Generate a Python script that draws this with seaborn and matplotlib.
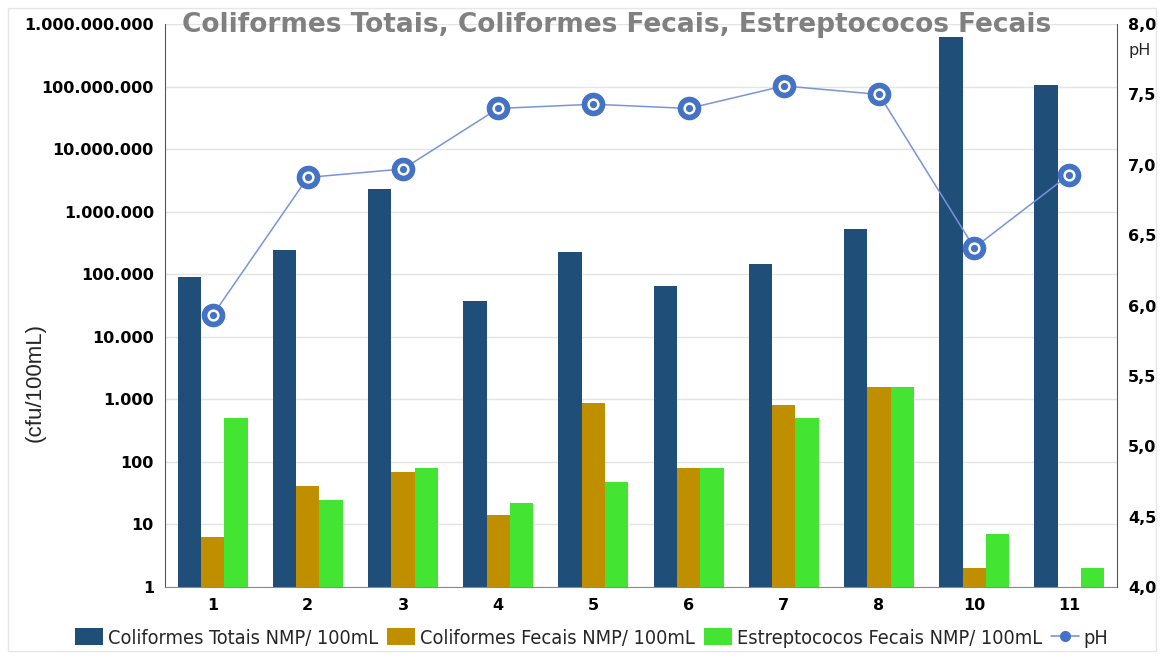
import numpy as np
import pandas as pd
import seaborn as sns
import matplotlib.pyplot as plt
from matplotlib.ticker import FixedLocator, FuncFormatter, NullLocator
from matplotlib.patches import Patch, Rectangle
from matplotlib.lines import Line2D
from matplotlib.font_manager import FontProperties

# Data
pontos = ['1', '2', '3', '4', '5', '6', '7', '8', '10', '11']
coli_totais = [90000, 240000, 2300000, 38000, 230000, 64000, 145000, 520000, 610000000, 105000000]
coli_fecais = [6.3, 41, 69, 14, 880, 80, 810, 1600, 2, np.nan]
estrep_fecais = [500, 25, 80, 22, 48, 80, 500, 1600, 7, 2]
ph = [5.93, 6.91, 6.97, 7.40, 7.43, 7.40, 7.56, 7.50, 6.41, 6.93]

series_names = ['Coliformes Totais NMP/ 100mL', 'Coliformes Fecais NMP/ 100mL',
                'Estreptococos Fecais NMP/ 100mL']
cores = ['#1F4E79', '#C08F00', '#44E532']
cor_ph = '#4472C4'

df = pd.DataFrame({
    'ponto': pontos * 3,
    'valor': coli_totais + coli_fecais + estrep_fecais,
    'serie': [series_names[0]] * len(pontos) + [series_names[1]] * len(pontos)
             + [series_names[2]] * len(pontos),
})

sns.set_style('white')
plt.rcParams['font.family'] = ['DejaVu Sans']

fig = plt.figure(figsize=(11.64, 6.59), dpi=100)
ax = fig.add_axes([165 / 1164, 1 - 587 / 659, (1117 - 165) / 1164, (587 - 24) / 659])

sns.barplot(data=df, x='ponto', y='valor', hue='serie', order=pontos,
            hue_order=series_names, palette=cores, width=0.735, gap=0,
            linewidth=0, saturation=1, ax=ax, legend=False)
ax.set_yscale('log')
ax.set_ylim(1, 1e9)
ax.set_xlim(-0.5, len(pontos) - 0.5)
ax.yaxis.set_major_locator(FixedLocator([10 ** k for k in range(10)]))
ax.yaxis.set_minor_locator(NullLocator())
ax.yaxis.set_major_formatter(FuncFormatter(lambda v, p: f"{int(round(v)):,}".replace(',', '.')))
ax.grid(axis='y', color='#E4E4E4', linewidth=1)
ax.set_axisbelow(True)
ax.set_xlabel('')
ax.set_ylabel('')
ax.tick_params(axis='both', length=0, labelsize=11.5, pad=8, labelcolor='black')
for lab in ax.get_yticklabels() + ax.get_xticklabels():
    lab.set_fontweight('bold')
ax.spines['top'].set_visible(False)
ax.spines['right'].set_visible(False)
ax.spines['left'].set_color('#555555')
ax.spines['bottom'].set_color('#8A8A8A')

# pH on secondary axis
ax2 = ax.twinx()
xs = np.arange(len(pontos))
sns.lineplot(x=xs, y=ph, ax=ax2, color='#7894DA', linewidth=1.1, sort=False)
ax2.plot(xs, ph, linestyle='none', marker='o', markersize=16, color=cor_ph, zorder=3)
ax2.plot(xs, ph, linestyle='none', marker='o', markersize=7, markerfacecolor=cor_ph,
         markeredgecolor='white', markeredgewidth=1.8, zorder=4)
ax2.set_ylim(4.0, 8.0)
ax2.set_yticks(np.arange(4.0, 8.01, 0.5))
ax2.yaxis.set_major_formatter(FuncFormatter(lambda v, p: f"{v:.1f}".replace('.', ',')))
ax2.tick_params(axis='y', length=0, labelsize=11.5, pad=8, labelcolor='black')
for lab in ax2.get_yticklabels():
    lab.set_fontweight('bold')
ax2.grid(False)
for s in ['top', 'left', 'bottom']:
    ax2.spines[s].set_visible(False)
ax2.spines['right'].set_color('#555555')
ax2.set_xlim(-0.5, len(pontos) - 0.5)

fig.text(1128 / 1164, 1 - 50 / 659, 'pH', fontsize=11.5, ha='left', va='center')
fig.text(35 / 1164, 1 - 383 / 659, '(cfu/100mL)', fontsize=16, rotation=90,
         ha='center', va='center', family=['Liberation Sans', 'DejaVu Sans'])
fig.text(617 / 1164, 1 - 25 / 659, 'Coliformes Totais, Coliformes Fecais, Estreptococos Fecais',
         fontsize=19, fontweight='bold', color='#808080', ha='center', va='center')

handles = [Patch(facecolor=c, edgecolor='none') for c in cores]
handles.append(Line2D([0], [0], color='#7894DA', marker='o', markersize=7,
                      markerfacecolor=cor_ph, markeredgecolor=cor_ph, linewidth=1.2))
fig.legend(handles, series_names + ['pH'], loc='center', bbox_to_anchor=(592 / 1164, 1 - 638 / 659),
           ncol=4, frameon=False, handlelength=1.4, handleheight=0.9, handletextpad=0.25,
           columnspacing=0.45, prop=FontProperties(family='DejaVu Sans', stretch='condensed', size=14.3))

fig.patches.append(Rectangle((8 / 1164, 8 / 659), 1 - 16 / 1164, 1 - 16 / 659,
                             transform=fig.transFigure, fill=False, edgecolor='#E6E6E6',
                             linewidth=1))

fig.savefig('out.png', dpi=100)
